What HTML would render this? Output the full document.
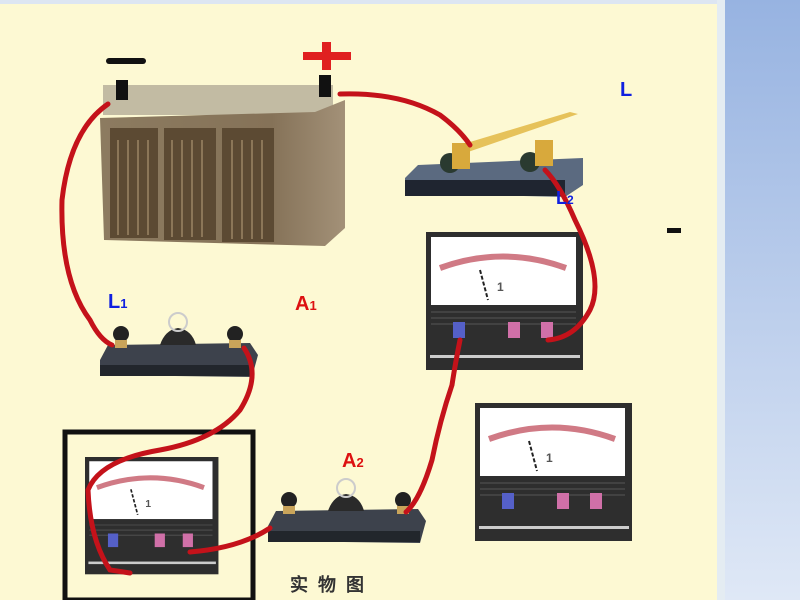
<!DOCTYPE html>
<html><head><meta charset="utf-8"><style>
html,body{margin:0;padding:0;width:800px;height:600px;overflow:hidden;background:#fdf9d3}
svg{display:block}
text{font-family:"Liberation Sans",sans-serif;font-weight:bold}
</style></head><body>
<svg width="800" height="600" viewBox="0 0 800 600">
<defs>
<linearGradient id="rp" x1="0" y1="0" x2="0" y2="1"><stop offset="0" stop-color="#97b3e1"/><stop offset="1" stop-color="#dfe8f6"/></linearGradient>
<linearGradient id="bat" x1="0" y1="0" x2="1" y2="0"><stop offset="0" stop-color="#8c7b60"/><stop offset="0.7" stop-color="#857258"/><stop offset="1" stop-color="#a39178"/></linearGradient>
</defs>
<rect width="800" height="600" fill="#fdf9d3"/>
<rect width="800" height="4" fill="#dde6f2"/>
<rect x="717" y="0" width="8" height="600" fill="#e4ecf2"/>
<rect x="725" y="0" width="75" height="600" fill="url(#rp)"/>

<!-- battery -->
<rect x="103" y="85" width="230" height="30" fill="#c2bba3"/>
<polygon points="100,118 315,112 345,100 345,228 325,246 104,240" fill="url(#bat)"/>
<rect x="110" y="128" width="48" height="110" fill="#5c4a33"/>
<rect x="164" y="128" width="52" height="112" fill="#5c4a33"/>
<rect x="222" y="128" width="52" height="114" fill="#5c4a33"/>
<g stroke="#8b7658" stroke-width="2">
<line x1="118" y1="140" x2="118" y2="235"/><line x1="128" y1="140" x2="128" y2="235"/><line x1="138" y1="140" x2="138" y2="235"/><line x1="148" y1="140" x2="148" y2="235"/>
<line x1="172" y1="140" x2="172" y2="237"/><line x1="182" y1="140" x2="182" y2="237"/><line x1="192" y1="140" x2="192" y2="237"/><line x1="202" y1="140" x2="202" y2="237"/>
<line x1="232" y1="140" x2="232" y2="239"/><line x1="242" y1="140" x2="242" y2="239"/><line x1="252" y1="140" x2="252" y2="239"/><line x1="262" y1="140" x2="262" y2="239"/>
</g>
<rect x="116" y="80" width="12" height="20" fill="#111"/>
<rect x="319" y="75" width="12" height="22" fill="#111"/>
<rect x="106" y="58" width="40" height="6" rx="3" fill="#111"/>
<rect x="303" y="52" width="48" height="8" fill="#e02020"/>
<rect x="322" y="42" width="9" height="28" fill="#e02020"/>

<!-- switch -->
<polygon points="418,165 583,158 583,185 565,197 405,193 405,178" fill="#5b6a80"/>
<rect x="405" y="180" width="160" height="16" fill="#1f2530"/>
<polygon points="460,145 570,112 578,114 468,152" fill="#e6c25a"/>
<circle cx="450" cy="163" r="10" fill="#2a3a30"/><rect x="452" y="143" width="18" height="26" fill="#d8a93c"/>
<circle cx="530" cy="162" r="10" fill="#2a3a30"/><rect x="535" y="140" width="18" height="26" fill="#d8a93c"/>

<!-- meters -->
<g id="m1">
<rect x="426" y="232" width="157" height="138" fill="#2e2e2e"/>
<rect x="431" y="237" width="145" height="68" fill="#fff"/>
<path d="M440,268 Q503,245 566,268" stroke="#d07a85" stroke-width="6" fill="none"/>
<line x1="480" y1="270" x2="488" y2="300" stroke="#222" stroke-width="2" stroke-dasharray="4,2"/>
<text x="497" y="291" font-size="12" fill="#555" font-weight="normal">1</text>
<g stroke="#555"><line x1="431" y1="312" x2="576" y2="312"/><line x1="431" y1="318" x2="576" y2="318"/><line x1="431" y1="324" x2="576" y2="324"/></g>
<rect x="453" y="322" width="12" height="16" fill="#5560c8"/>
<rect x="508" y="322" width="12" height="16" fill="#d070a8"/>
<rect x="541" y="322" width="12" height="16" fill="#d070a8"/>
<rect x="430" y="355" width="150" height="3" fill="#ccc"/>
</g>
<use href="#m1" transform="translate(49,171)"/>
<rect x="65" y="432" width="188" height="168" fill="none" stroke="#111" stroke-width="5"/>
<use href="#m1" transform="translate(85,457) scale(0.85) translate(-426,-232)"/>

<!-- lamps -->
<g id="lp">
<polygon points="108,345 250,343 258,355 252,377 100,375 100,360" fill="#3d424c"/>
<rect x="100" y="365" width="152" height="11" fill="#22262c"/>
<path d="M160,345 Q165,330 178,328 Q192,330 196,345 Z" fill="#2a2a2a"/>
<circle cx="178" cy="322" r="9" fill="none" stroke="#ccc" stroke-width="2"/>
<circle cx="121" cy="334" r="8" fill="#222"/><rect x="115" y="340" width="12" height="8" fill="#c9a45a"/>
<circle cx="235" cy="334" r="8" fill="#222"/><rect x="229" y="340" width="12" height="8" fill="#c9a45a"/>
</g>
<use href="#lp" transform="translate(168,166)"/>

<!-- wires -->
<g stroke="#c4121a" stroke-width="5" fill="none" stroke-linecap="round">
<path d="M108,104 Q70,130 62,200 Q60,280 90,320 Q100,340 112,345"/>
<path d="M340,94 Q400,92 440,115 Q460,130 470,145"/>
<path d="M545,170 Q560,185 575,220 Q605,280 590,310 Q575,338 548,340"/>
<path d="M244,348 Q262,375 240,410 Q215,440 160,450 Q100,460 88,490 Q90,540 110,570 L130,573"/>
<path d="M190,552 Q240,548 270,528"/>
<path d="M460,340 Q455,365 452,385 Q440,420 432,460 Q420,500 406,512"/>
</g>

<text x="620" y="96" font-size="20" fill="#1020e0">L</text>
<text x="556" y="204" font-size="18" fill="#1020e0">L<tspan font-size="12">2</tspan></text>
<rect x="667" y="228" width="14" height="5" fill="#111"/>
<text x="108" y="308" font-size="20" fill="#1020e0">L<tspan font-size="13">1</tspan></text>
<text x="295" y="310" font-size="20" fill="#dd1111">A<tspan font-size="13">1</tspan></text>
<text x="342" y="467" font-size="20" fill="#dd1111">A<tspan font-size="13">2</tspan></text>
<text x="290" y="591" font-size="18" fill="#333" font-family="'Liberation Sans','Noto Sans CJK SC',sans-serif" letter-spacing="10" font-weight="normal">实物图</text>
</svg>
</body></html>
